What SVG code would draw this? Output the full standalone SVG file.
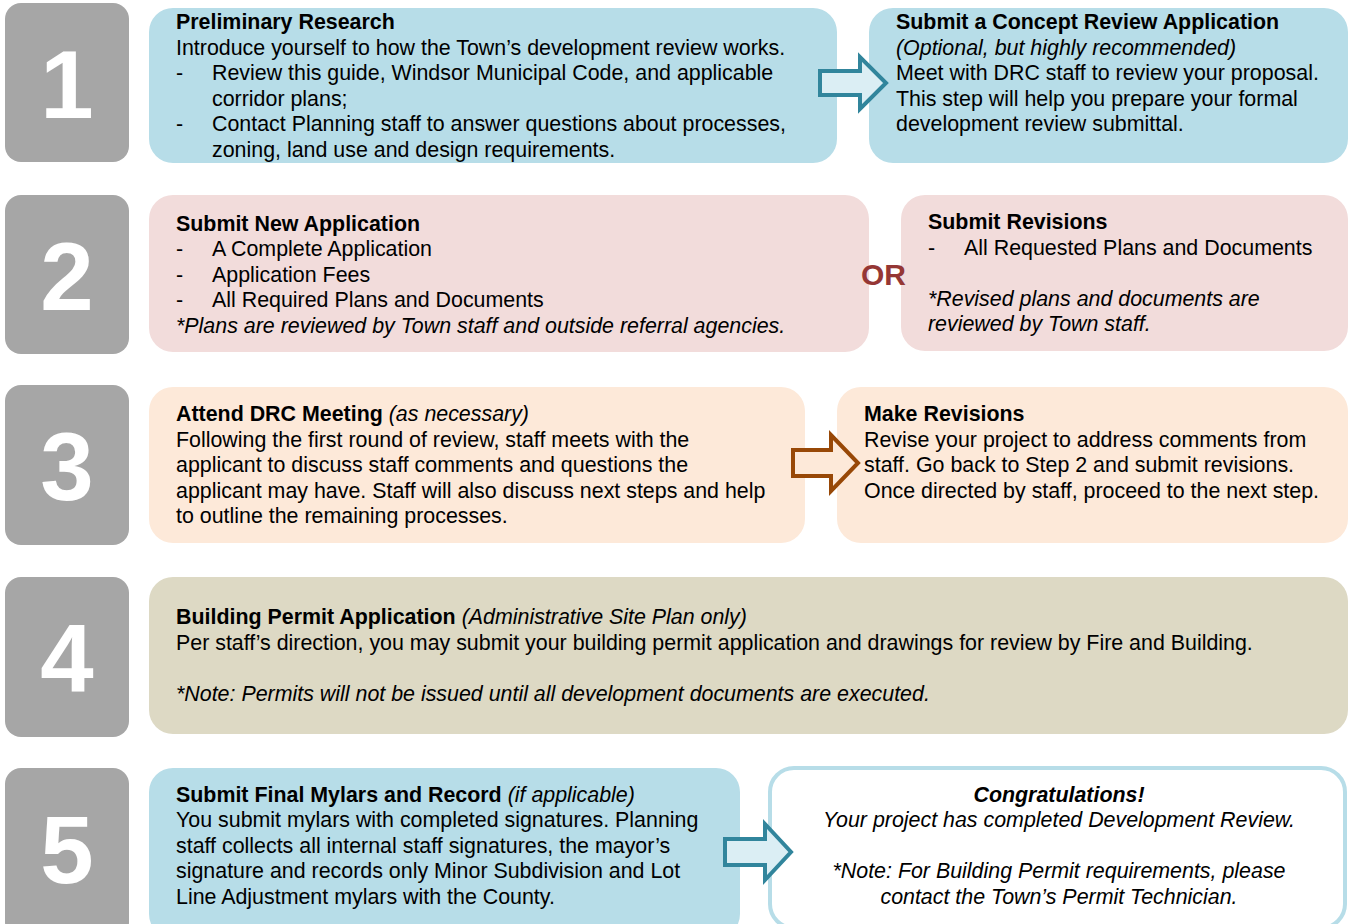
<svg xmlns="http://www.w3.org/2000/svg" width="1348" height="924" viewBox="0 0 1348 924">
<style>
text{font-family:"Liberation Sans",Arial,sans-serif;font-size:21.4px;fill:#000}
.b{font-weight:bold}
.i{font-style:italic}
.num{font-size:96px;font-weight:bold;fill:#fff;text-anchor:middle}
.g{fill:#a6a6a6}
.blue{fill:#b7dde8}
.pink{fill:#f2dcdb}
.peach{fill:#fde9d9}
.tan{fill:#ddd9c4}
.c{text-anchor:middle}
</style>
<rect width="1348" height="924" fill="#fff"/>
<g id="step1">
<rect class="g" x="5" y="3" width="124" height="159" rx="16"/>
<text class="num" x="67" y="118">1</text>
</g>
<g id="step2">
<rect class="g" x="5" y="195" width="124" height="159" rx="16"/>
<text class="num" x="67" y="310">2</text>
</g>
<g id="step3">
<rect class="g" x="5" y="385" width="124" height="160" rx="16"/>
<text class="num" x="67" y="500">3</text>
</g>
<g id="step4">
<rect class="g" x="5" y="577" width="124" height="160" rx="16"/>
<text class="num" x="67" y="692">4</text>
</g>
<g id="step5">
<rect class="g" x="5" y="768" width="124" height="170" rx="16"/>
<text class="num" x="67" y="883">5</text>
</g>
<g id="research">
<rect class="blue" x="149" y="8" width="688" height="155" rx="24"/>
<text class="b" x="176" y="29">Preliminary Research</text>
<text x="176" y="55">Introduce yourself to how the Town’s development review works.</text>
<text x="176" y="80">-</text><text x="212" y="80">Review this guide, Windsor Municipal Code, and applicable</text>
<text x="212" y="106">corridor plans;</text>
<text x="176" y="131">-</text><text x="212" y="131">Contact Planning staff to answer questions about processes,</text>
<text x="212" y="157">zoning, land use and design requirements.</text>
</g>
<g id="concept">
<rect class="blue" x="869" y="8" width="479" height="155" rx="24"/>
<text class="b" x="896" y="29">Submit a Concept Review Application</text>
<text class="i" x="896" y="55">(Optional, but highly recommended)</text>
<text x="896" y="80">Meet with DRC staff to review your proposal.</text>
<text x="896" y="106">This step will help you prepare your formal</text>
<text x="896" y="131">development review submittal.</text>
</g>
<g id="newapp">
<rect class="pink" x="149" y="195" width="720" height="157" rx="24"/>
<text class="b" x="176" y="231">Submit New Application</text>
<text x="176" y="256">-</text><text x="212" y="256">A Complete Application</text>
<text x="176" y="282">-</text><text x="212" y="282">Application Fees</text>
<text x="176" y="307">-</text><text x="212" y="307">All Required Plans and Documents</text>
<text class="i" x="176" y="333">*Plans are reviewed by Town staff and outside referral agencies.</text>
</g>
<g id="revisions">
<rect class="pink" x="901" y="195" width="447" height="156" rx="24"/>
<text class="b" x="928" y="229">Submit Revisions</text>
<text x="928" y="255">-</text><text x="964" y="255">All Requested Plans and Documents</text>
<text class="i" x="928" y="306">*Revised plans and documents are</text>
<text class="i" x="928" y="331">reviewed by Town staff.</text>
</g>
<text id="or" x="861" y="285" style="font-size:30px;font-weight:bold;fill:#953735">OR</text>
<g id="drc">
<rect class="peach" x="149" y="387" width="656" height="156" rx="24"/>
<text x="176" y="421"><tspan class="b">Attend DRC Meeting</tspan> <tspan class="i">(as necessary)</tspan></text>
<text x="176" y="447">Following the first round of review, staff meets with the</text>
<text x="176" y="472">applicant to discuss staff comments and questions the</text>
<text x="176" y="498">applicant may have. Staff will also discuss next steps and help</text>
<text x="176" y="523">to outline the remaining processes.</text>
</g>
<g id="makerev">
<rect class="peach" x="837" y="387" width="511" height="156" rx="24"/>
<text class="b" x="864" y="421">Make Revisions</text>
<text x="864" y="447">Revise your project to address comments from</text>
<text x="864" y="472">staff. Go back to Step 2 and submit revisions.</text>
<text x="864" y="498">Once directed by staff, proceed to the next step.</text>
</g>
<g id="permit">
<rect class="tan" x="149" y="577" width="1199" height="157" rx="24"/>
<text x="176" y="624"><tspan class="b">Building Permit Application</tspan> <tspan class="i">(Administrative Site Plan only)</tspan></text>
<text x="176" y="650">Per staff’s direction, you may submit your building permit application and drawings for review by Fire and Building.</text>
<text class="i" x="176" y="701">*Note: Permits will not be issued until all development documents are executed.</text>
</g>
<g id="mylars">
<rect class="blue" x="149" y="768" width="591" height="170" rx="24"/>
<text x="176" y="802"><tspan class="b">Submit Final Mylars and Record</tspan> <tspan class="i">(if applicable)</tspan></text>
<text x="176" y="827">You submit mylars with completed signatures. Planning</text>
<text x="176" y="853">staff collects all internal staff signatures, the mayor’s</text>
<text x="176" y="878">signature and records only Minor Subdivision and Lot</text>
<text x="176" y="904">Line Adjustment mylars with the County.</text>
</g>
<g id="congrats">
<rect x="770" y="768" width="575" height="160" rx="24" fill="#fff" stroke="#b7dde8" stroke-width="4"/>
<text class="b i c" x="1059" y="802">Congratulations!</text>
<text class="i c" x="1059" y="827">Your project has completed Development Review.</text>
<text class="i c" x="1059" y="878">*Note: For Building Permit requirements, please</text>
<text class="i c" x="1059" y="904">contact the Town’s Permit Technician.</text>
</g>
<g id="connectors" stroke-width="4" stroke-linejoin="miter">
<path d="M820,71 H860 V57 L886,83 L860,109 V95 H820 Z" fill="#dbeef4" stroke="#31859c"/>
<path d="M793,450 H831 V435 L858,463 L831,491 V476 H793 Z" fill="#fde9d9" stroke="#984807"/>
<path d="M725,839 H765 V824 L791,852 L765,880 V865 H725 Z" fill="#dbeef4" stroke="#31859c"/>
</g>
</svg>
